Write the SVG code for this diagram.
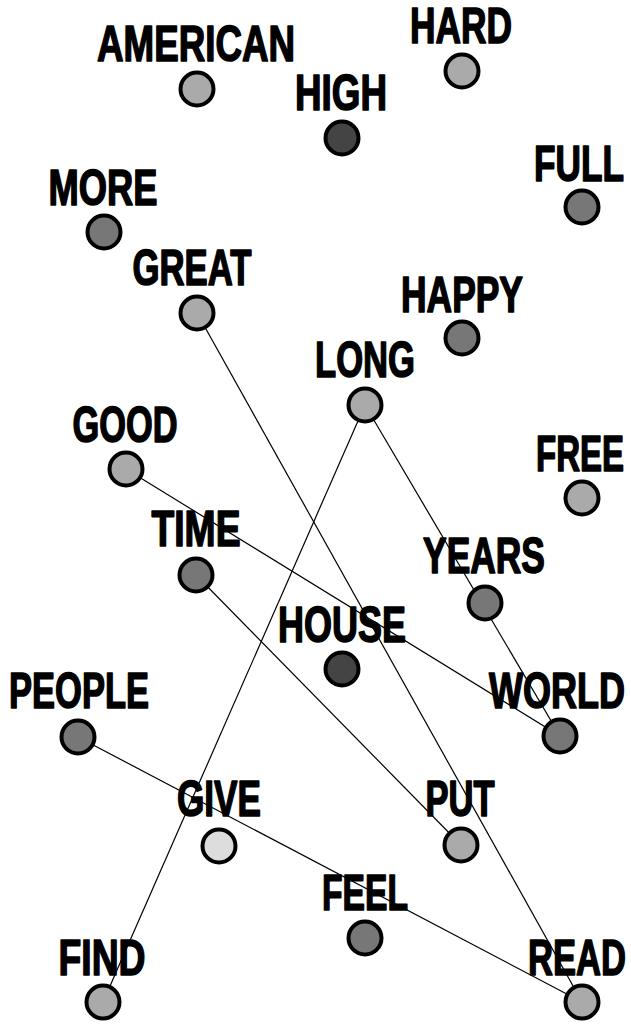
<svg xmlns="http://www.w3.org/2000/svg" width="631" height="1027" viewBox="0 0 631 1027">
<style>
text{font-family:"Liberation Sans Narrow","Liberation Sans",Arial,sans-serif;font-weight:bold;font-size:50px;text-anchor:middle;fill:#000;stroke:#000;stroke-width:1.6;stroke-linejoin:round}
circle{stroke:#000;stroke-width:4}
.l{fill:#aaaaaa}.m{fill:#777777}.d{fill:#444444}.v{fill:#dddddd}
#edges line{stroke:#000;stroke-width:1.2}
</style>
<rect width="631" height="1027" fill="#fff"/>
<g id="edges">
<line x1="197" y1="313" x2="582" y2="1002"/>
<line x1="365" y1="405" x2="103" y2="1002"/>
<line x1="365" y1="405" x2="560" y2="736"/>
<line x1="126" y1="469" x2="560" y2="736"/>
<line x1="196" y1="575" x2="461" y2="845"/>
<line x1="78" y1="737" x2="582" y2="1002"/>
</g>
<g id="american"><text transform="matrix(0.72 0 0 1 196 0)" x="0" y="61" textLength="275" lengthAdjust="spacingAndGlyphs">AMERICAN</text><circle class="l" cx="197" cy="89" r="16.5"/></g>
<g id="hard"><text transform="matrix(0.72 0 0 1 461 0)" x="0" y="43" textLength="141.7" lengthAdjust="spacingAndGlyphs">HARD</text><circle class="l" cx="462" cy="71" r="16.5"/></g>
<g id="high"><text transform="matrix(0.72 0 0 1 341 0)" x="0" y="110" textLength="127.8" lengthAdjust="spacingAndGlyphs">HIGH</text><circle class="d" cx="342" cy="138" r="16.5"/></g>
<g id="full"><text transform="matrix(0.72 0 0 1 579 0)" x="0" y="181" textLength="125" lengthAdjust="spacingAndGlyphs">FULL</text><circle class="m" cx="582" cy="207" r="16.5"/></g>
<g id="more"><text transform="matrix(0.72 0 0 1 103 0)" x="0" y="205" textLength="151.4" lengthAdjust="spacingAndGlyphs">MORE</text><circle class="m" cx="104" cy="232" r="16.5"/></g>
<g id="great"><text transform="matrix(0.72 0 0 1 192 0)" x="0" y="285" textLength="165.3" lengthAdjust="spacingAndGlyphs">GREAT</text><circle class="l" cx="197" cy="313" r="16.5"/></g>
<g id="happy"><text transform="matrix(0.72 0 0 1 462 0)" x="0" y="312" textLength="169.4" lengthAdjust="spacingAndGlyphs">HAPPY</text><circle class="m" cx="462" cy="338" r="16.5"/></g>
<g id="long"><text transform="matrix(0.72 0 0 1 365 0)" x="0" y="377" textLength="138.9" lengthAdjust="spacingAndGlyphs">LONG</text><circle class="l" cx="365" cy="405" r="16.5"/></g>
<g id="good"><text transform="matrix(0.72 0 0 1 125 0)" x="0" y="442" textLength="145.8" lengthAdjust="spacingAndGlyphs">GOOD</text><circle class="l" cx="126" cy="469" r="16.5"/></g>
<g id="free"><text transform="matrix(0.72 0 0 1 580 0)" x="0" y="471" textLength="122.2" lengthAdjust="spacingAndGlyphs">FREE</text><circle class="l" cx="582" cy="498" r="16.5"/></g>
<g id="time"><text transform="matrix(0.72 0 0 1 196 0)" x="0" y="546" textLength="123.6" lengthAdjust="spacingAndGlyphs">TIME</text><circle class="m" cx="196" cy="575" r="16.5"/></g>
<g id="years"><text transform="matrix(0.72 0 0 1 484 0)" x="0" y="573" textLength="169.4" lengthAdjust="spacingAndGlyphs">YEARS</text><circle class="m" cx="485" cy="603" r="16.5"/></g>
<g id="house"><text transform="matrix(0.72 0 0 1 342 0)" x="0" y="642" textLength="177.8" lengthAdjust="spacingAndGlyphs">HOUSE</text><circle class="d" cx="342" cy="669" r="16.5"/></g>
<g id="people"><text transform="matrix(0.72 0 0 1 79 0)" x="0" y="708" textLength="194.4" lengthAdjust="spacingAndGlyphs">PEOPLE</text><circle class="m" cx="78" cy="737" r="16.5"/></g>
<g id="world"><text transform="matrix(0.72 0 0 1 557 0)" x="0" y="708" textLength="188.9" lengthAdjust="spacingAndGlyphs">WORLD</text><circle class="m" cx="560" cy="736" r="16.5"/></g>
<g id="give"><text transform="matrix(0.72 0 0 1 219 0)" x="0" y="816" textLength="116.7" lengthAdjust="spacingAndGlyphs">GIVE</text><circle class="v" cx="219" cy="846" r="16.5"/></g>
<g id="put"><text transform="matrix(0.72 0 0 1 460 0)" x="0" y="816" textLength="95.8" lengthAdjust="spacingAndGlyphs">PUT</text><circle class="l" cx="461" cy="845" r="16.5"/></g>
<g id="feel"><text transform="matrix(0.72 0 0 1 365 0)" x="0" y="910" textLength="119.4" lengthAdjust="spacingAndGlyphs">FEEL</text><circle class="m" cx="365" cy="938" r="16.5"/></g>
<g id="find"><text transform="matrix(0.72 0 0 1 102 0)" x="0" y="975" textLength="120.8" lengthAdjust="spacingAndGlyphs">FIND</text><circle class="l" cx="103" cy="1002" r="16.5"/></g>
<g id="read"><text transform="matrix(0.72 0 0 1 577 0)" x="0" y="975" textLength="136.1" lengthAdjust="spacingAndGlyphs">READ</text><circle class="l" cx="582" cy="1002" r="16.5"/></g>
</svg>
